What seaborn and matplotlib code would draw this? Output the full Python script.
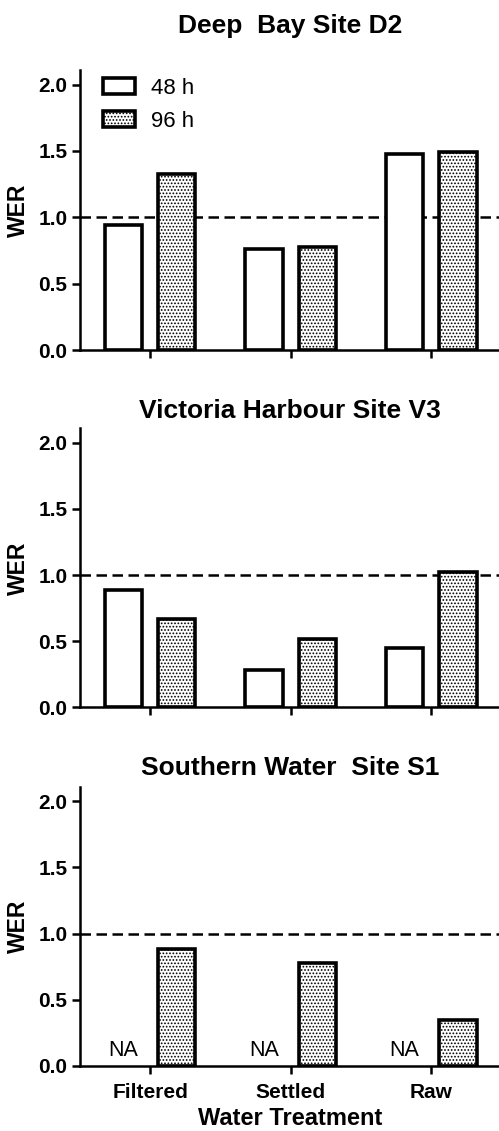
import matplotlib
matplotlib.use("Agg")
import matplotlib.pyplot as plt
from matplotlib.patches import Patch
import numpy as np
import pandas as pd
import seaborn as sns

sns.set_theme(style="ticks")
plt.rcParams["font.family"] = ["Liberation Sans", "DejaVu Sans"]
plt.rcParams["text.color"] = "black"
plt.rcParams["axes.labelcolor"] = "black"
plt.rcParams["hatch.linewidth"] = 0.8
plt.rcParams["hatch.color"] = "#777777"

treatments = ["Filtered", "Settled", "Raw"]
durations = ["48 h", "96 h"]
titles = ["Deep  Bay Site D2", "Victoria Harbour Site V3", "Southern Water  Site S1"]

wer_48h = [
    [0.94, 0.76, 1.48],
    [0.89, 0.28, 0.45],
    [np.nan, np.nan, np.nan],
]
wer_96h = [
    [1.33, 0.78, 1.49],
    [0.67, 0.52, 1.02],
    [0.886, 0.78, 0.35],
]

W, H = 499, 1131
fig = plt.figure(figsize=(W / 100, H / 100), dpi=100)

# axes boxes in figure fractions: left, bottom, width, height
boxes = [
    [0.160, 0.6905, 0.842, 0.2476],
    [0.160, 0.3746, 0.842, 0.2467],
    [0.160, 0.0575, 0.842, 0.2470],
]
# title baselines, in pixels from the top
title_base = [33, 418, 775]

edge_lw = 2.6
for i, box in enumerate(boxes):
    ax = fig.add_axes(box)
    rows = []
    for j, t in enumerate(treatments):
        rows.append({"Treatment": t, "Exposure": "48 h", "WER": wer_48h[i][j]})
        rows.append({"Treatment": t, "Exposure": "96 h", "WER": wer_96h[i][j]})
    df = pd.DataFrame(rows)
    sns.barplot(data=df, x="Treatment", y="WER", hue="Exposure",
                order=treatments, hue_order=durations, dodge=True,
                width=0.76, gap=0.3, errorbar=None,
                palette=["white", "white"], edgecolor="black",
                linewidth=edge_lw, ax=ax, legend=False)
    for bar in ax.patches:
        # the dotted bars are the 96 h exposures (right of each tick)
        cx = bar.get_x() + bar.get_width() / 2
        if cx - round(cx) > 0:
            bar.set_hatch(".....")
    ax.axhline(1.0, color="black", lw=1.8, ls=(0, (4.2, 2.2)), zorder=0.5)

    ax.set_xlim(-0.5, 2.49)
    ax.set_ylim(0, 2.11)
    ax.set_yticks([0.0, 0.5, 1.0, 1.5, 2.0])
    ax.set_yticklabels(["0.0", "0.5", "1.0", "1.5", "2.0"])
    for side in ["top", "right"]:
        ax.spines[side].set_visible(False)
    for side in ["left", "bottom"]:
        ax.spines[side].set_linewidth(1.8)
        ax.spines[side].set_color("black")
    ax.tick_params(axis="both", direction="out", length=6, width=1.8,
                   color="black", labelcolor="black", labelsize=15, pad=3)
    ax.tick_params(axis="x", pad=6)
    for lab in ax.get_yticklabels() + ax.get_xticklabels():
        lab.set_fontweight("bold")
    ax.set_ylabel("WER", fontsize=16.5, fontweight="bold", labelpad=6)
    fig.text(290 / W, 1 - title_base[i] / H, titles[i], ha="center", va="baseline",
             fontsize=19, fontweight="bold")

    if i < 2:
        ax.set_xticklabels([])
        ax.set_xlabel("")
    else:
        ax.set_xlabel("Water Treatment", fontsize=17, fontweight="bold", labelpad=4)
        for j in range(len(treatments)):
            if np.isnan(wer_48h[i][j]):
                ax.text(j - 0.19, 0.12, "NA", ha="center", va="center",
                        fontsize=15.5, color="black")

    if i == 0:
        handles = [Patch(facecolor="white", edgecolor="black", linewidth=edge_lw),
                   Patch(facecolor="white", edgecolor="black", linewidth=edge_lw,
                         hatch=".....")]
        ax.legend(handles, durations, loc="upper left", bbox_to_anchor=(0.024, 1.02),
                  frameon=False, fontsize=16, handlelength=1.45, handleheight=0.75,
                  handletextpad=0.7, labelspacing=0.55, borderaxespad=0.2)

fig.savefig("out.png", dpi=100)
